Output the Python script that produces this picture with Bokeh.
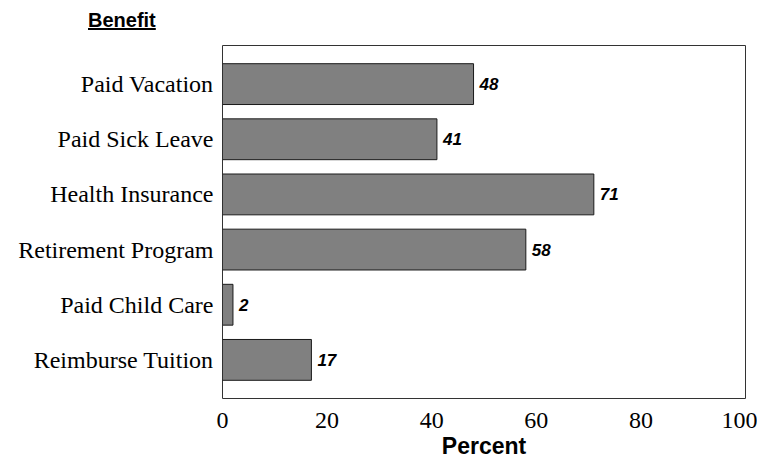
from bokeh.plotting import figure
from bokeh.models import ColumnDataSource, FactorRange, Range1d, Div, FixedTicker
from bokeh.layouts import column
from bokeh.embed import file_html
from bokeh.resources import INLINE
from bokeh.core.properties import value

categories = ["Paid Vacation", "Paid Sick Leave", "Health Insurance",
              "Retirement Program", "Paid Child Care", "Reimburse Tuition"]
percents = [48, 41, 71, 58, 2, 17]
x_ticks = [0, 20, 40, 60, 80, 100]

factors = list(reversed(categories))
src = ColumnDataSource(dict(cat=categories, val=percents,
                            lbl=[str(v) for v in percents]))

p = figure(y_range=FactorRange(factors=factors, range_padding=0.2,
                               range_padding_units="absolute"),
           x_range=Range1d(0, 100),
           width=757, height=423, output_backend="svg", toolbar_location=None,
           min_border_left=222, min_border_right=12, min_border_top=7,
           min_border_bottom=62)

p.hbar(y="cat", right="val", left=0, height=0.74, source=src,
       fill_color="#808080", line_color="#1a1a1a", line_width=1)
p.text(x="val", y="cat", text="lbl", source=src, x_offset=6,
       text_baseline="middle", text_align="left",
       text_font=value("Liberation Sans"), text_font_style="bold italic",
       text_font_size="17px", text_color="black")

p.grid.grid_line_color = None
p.outline_line_color = "#333333"
p.outline_line_width = 1
p.background_fill_color = "white"
p.border_fill_color = "white"

for ax in (p.xaxis[0], p.yaxis[0]):
    ax.axis_line_color = None
    ax.major_tick_line_color = None
    ax.minor_tick_line_color = None
    ax.major_label_text_font = "Liberation Serif"
    ax.major_label_text_font_size = "24px"
    ax.major_label_text_color = "black"

p.xaxis.ticker = FixedTicker(ticks=x_ticks)
p.xaxis.major_label_standoff = 8
p.xaxis.axis_label = "Percent"
p.xaxis.axis_label_text_font = "Liberation Sans"
p.xaxis.axis_label_text_font_style = "bold"
p.xaxis.axis_label_text_font_size = "23px"
p.xaxis.axis_label_text_color = "black"
p.xaxis.axis_label_standoff = 2
p.yaxis.major_label_standoff = 3

div = Div(text=("<span style=\"font-family:'Liberation Sans';font-weight:bold;"
                "font-size:20px;text-decoration:underline;color:black;"
                "position:relative;top:3px\">"
                "Benefit</span>"),
          width=300, height=30,
          styles={"margin-left": "88px", "margin-top": "3px"})

layout = column(div, p, spacing=0)
open("out.html", "w").write(file_html(layout, INLINE))
